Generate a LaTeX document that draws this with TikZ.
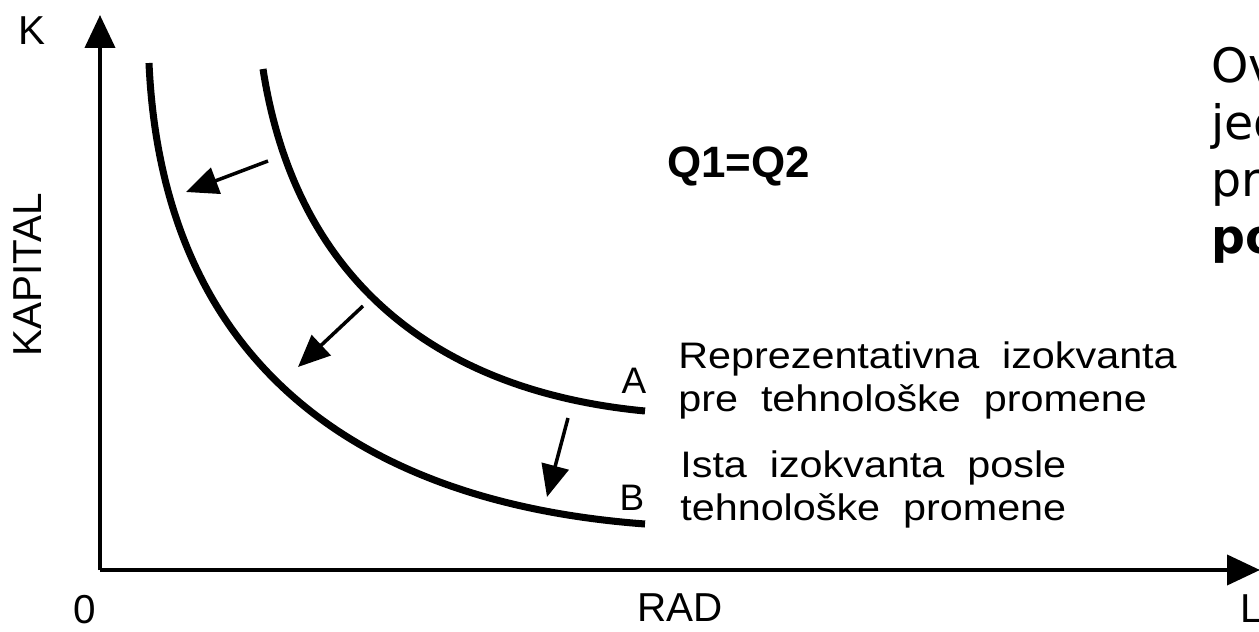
\documentclass[tikz,border=0pt]{standalone}
\usepackage{fontspec}
\setmainfont{Liberation Sans}
\newfontfamily\descfont[FakeStretch=1.12, WordSpace=2]{Liberation Sans}
\newfontfamily\notefont{DejaVu Sans}
\usepackage{tikz}
\usetikzlibrary{arrows.meta,positioning}

\begin{document}
\begin{tikzpicture}[x=0.02cm, y=-0.02cm, >=Latex,
    axis/.style={line width=2.3pt, -{Triangle[length=0.66cm, width=0.6cm]}},
    isoq/.style={line width=4pt},
    moveto/.style={line width=2pt, -{Triangle[length=0.64cm, width=0.55cm]}},
    lbl/.style={inner sep=0pt, font=\fontsize{23}{27}\selectfont},
    desc/.style={inner sep=0pt, align=left, anchor=base west, font=\descfont\fontsize{21}{24}\selectfont},
    every node/.style={text=black}]
  \useasboundingbox (0,0) rectangle (1259,632);

  % Axes
  \coordinate (O) at (100,570);
  \coordinate (Ktop) at (100,15);
  \coordinate (Lend) at (1260,570);
  \draw[axis] (O) -- (Ktop);
  \draw[axis] (O) -- (Lend);

  \node[lbl] (K) at (32,31) {K};
  \node[lbl] (zero) at (85,610) {0};
  \node[lbl] (rad) at (680,608) {RAD};
  \node[lbl, anchor=west] (L) at (1240,609) {L};
  \node[lbl, rotate=90] (kap) at (28,275) {KAPITAL};

  % Isoquants
  \draw[isoq] (263,69) .. controls (297,288) and (445,392) .. (645,411);
  \draw[isoq] (149,63) .. controls (162,356) and (350,502) .. (645,524);

  \node[inner sep=0pt, font=\fontsize{21}{24}\selectfont, anchor=base] (A) at (634,393) {A};
  \node[inner sep=0pt, font=\fontsize{21}{24}\selectfont, anchor=base] (B) at (632,510) {B};

  % last line sits on the given baseline
  \node[desc] (descA) at (678,411) {Reprezentativna izokvanta\\pre tehnološke promene};
  \node[desc] (descB) at (680,520) {Ista izokvanta posle\\tehnološke promene};

  \node[inner sep=0pt, anchor=base west, font=\fontsize{25}{30}\selectfont\bfseries] (Q) at (667,177) {Q1=Q2};

  % Note on the right (cut off by the edge)
  \node[inner sep=0pt, anchor=base west, align=left,
        font=\notefont\fontsize{27}{32.3}\selectfont] (note) at (1211,253) {Ov\\jed\\pr\\\textbf{po}};

  % Shift of the isoquant
  \coordinate (s1) at (268,161);
  \coordinate (e1) at (186,192);
  \coordinate (s2) at (363,306);
  \coordinate (e2) at (298,367);
  \coordinate (s3) at (568,418);
  \coordinate (e3) at (547,497);
  \draw[moveto] (s1) -- (e1);
  \draw[moveto] (s2) -- (e2);
  \draw[moveto] (s3) -- (e3);
\end{tikzpicture}
\end{document}
